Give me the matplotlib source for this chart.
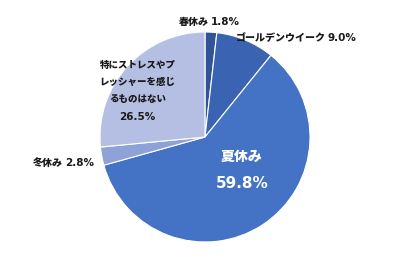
import matplotlib
matplotlib.use("Agg")
import matplotlib.pyplot as plt

JP = ['Noto Sans CJK JP', 'DejaVu Sans']
NUM = ['DejaVu Sans']

# === DATA ===
labels = ["春休み", "ゴールデンウイーク", "夏休み", "冬休み", "特にストレスやプ\nレッシャーを感じ\nるものはない"]
values = [1.8, 9.0, 59.8, 2.8, 26.5]
colors = ["#2F5597", "#3A64B2", "#4472C4", "#8EA2D8", "#B4BFE3"]

# === PLOTTING ===
fig = plt.figure(figsize=(4.1, 2.75), dpi=100)
ax = fig.add_axes([0, 0, 1, 1])
ax.pie(values, colors=colors, startangle=90, counterclock=False, radius=1.0,
       wedgeprops=dict(edgecolor="white", linewidth=0.8))

# circle centre at (205, 137) px, radius 105 px
ax.set_xlim(-205 / 105, 205 / 105)
ax.set_ylim(-138 / 105, 137 / 105)
ax.set_aspect("auto")
ax.axis("off")

fs_jp = 7.2
fs_num = 7.5
jp_weight = 900
dark = "#1a1a1a"


def split_label(x_split, y, name, val, gap=0.02):
    # japanese part right-aligned, number left-aligned after it
    ax.text(x_split, y, name, ha="right", va="center", family=JP,
            fontsize=fs_jp, fontweight=jp_weight, color=dark)
    ax.text(x_split + gap, y, f"{val}%", ha="left", va="center", family=NUM,
            fontsize=fs_num, fontweight="bold", color=dark)


split_label(0.04, 1.098, labels[0], values[0])
split_label(1.15, 0.943, labels[1], values[1])
split_label(-1.35, -0.248, labels[3], values[3])

ax.text(0.352, -0.19, labels[2], ha="center", va="center", family=JP,
        fontsize=10, fontweight=jp_weight, color="white")
ax.text(0.352, -0.44, f"{values[2]}%", ha="center", va="center", family=NUM,
        fontsize=11, fontweight="bold", color="white")

ax.text(-0.643, 0.524, labels[4], ha="center", va="center", family=JP,
        fontsize=6.8, fontweight=jp_weight, color=dark, linespacing=1.85)
ax.text(-0.643, 0.19, f"{values[4]}%", ha="center", va="center", family=NUM,
        fontsize=fs_num, fontweight="bold", color=dark)

fig.savefig("out.png", dpi=100)
